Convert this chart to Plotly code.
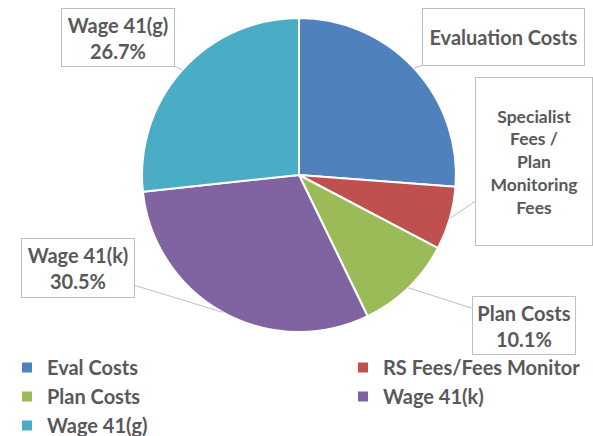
import math
import plotly.graph_objects as go

# ---- data ----
categories = ["Eval Costs", "RS Fees/Fees Monitor", "Plan Costs", "Wage 41(k)", "Wage 41(g)"]
values = [26.2, 6.5, 10.1, 30.5, 26.7]
colors = ["#4F81BD", "#C0504D", "#9BBB59", "#8064A2", "#4BACC6"]
callout_names = ["Evaluation Costs", "Specialist<br>Fees /<br>Plan<br>Monitoring<br>Fees",
                 "Plan Costs", "Wage 41(k)", "Wage 41(g)"]
show_pct = [False, False, True, True, True]

W, H = 593, 436
CX, CY, R = 299, 175, 157
FONT = "Lato"
TXT = "#595959"

fig = go.Figure(go.Pie(
    labels=categories, values=values, sort=False, direction="clockwise", rotation=0,
    marker=dict(colors=colors, line=dict(color="white", width=2)),
    textinfo="none", hoverinfo="label+percent", showlegend=False,
    domain=dict(x=[(CX - R) / W, (CX + R) / W], y=[1 - (CY + R) / H, 1 - (CY - R) / H]),
))

# legend entries in two columns (left: items 0,2,4 ; right: items 1,3)
for i, (name, col) in enumerate(zip(categories, colors)):
    fig.add_trace(go.Scatter(
        x=[None], y=[None], mode="markers", name=name,
        marker=dict(symbol="square", size=10, color=col),
        legend="legend" if i % 2 == 0 else "legend2", showlegend=True, hoverinfo="skip",
    ))

# callout boxes: (center x, center y, width, height, font size, line spacing size)
boxes = [
    (503, 37, 163, 58, 20, 20),
    (534, 162, 118, 169, 17.5, 17.5),
    (524, 325, 104, 59, 20, 20),
    (78, 268, 114, 60, 20, 20),
    (118, 38, 114, 59, 20, 20),
]

total = sum(values)
cum = 0.0
for i, v in enumerate(values):
    mid = (cum + v / 2) / total * 2 * math.pi
    cum += v
    px = CX + R * math.sin(mid)
    py = CY - R * math.cos(mid)
    bx, by, bw, bh, fs, ls = boxes[i]
    text = callout_names[i]
    if show_pct[i]:
        text += "<br>%.1f%%" % (v / total * 100)
    text = "<b><span style='font-size:%spx'>%s</span></b>" % (fs, text.replace("<br>", "</span><br><span style='font-size:%spx'>" % fs))
    fig.add_annotation(
        x=px / W, y=1 - py / H, xref="paper", yref="paper",
        ax=bx - px, ay=by - py,
        text=text, showarrow=True, arrowhead=0, arrowwidth=1, arrowcolor="#BFBFBF",
        font=dict(family=FONT, size=ls, color=TXT),
        bordercolor="#BFBFBF", borderwidth=1, bgcolor="white", borderpad=0,
        width=bw - 2, height=bh - 2, align="center", valign="middle",
    )

legend_font = dict(family=FONT, size=20, color=TXT, weight="bold")
fig.update_layout(
    width=W, height=H, margin=dict(l=0, r=0, t=0, b=0, autoexpand=False),
    paper_bgcolor="white", plot_bgcolor="white",
    xaxis=dict(visible=False), yaxis=dict(visible=False),
    legend=dict(orientation="v", x=7 / W, y=1 - 348 / H, xanchor="left", yanchor="top",
                font=legend_font, itemwidth=30, bgcolor="rgba(0,0,0,0)", traceorder="normal"),
    legend2=dict(orientation="v", x=343 / W, y=1 - 348 / H, xanchor="left", yanchor="top",
                 font=legend_font, itemwidth=30, bgcolor="rgba(0,0,0,0)", traceorder="normal"),
)

fig.write_html("out.html", config={"displayModeBar": False},
               post_script="document.body.style.margin='0';document.body.style.overflow='hidden';")
